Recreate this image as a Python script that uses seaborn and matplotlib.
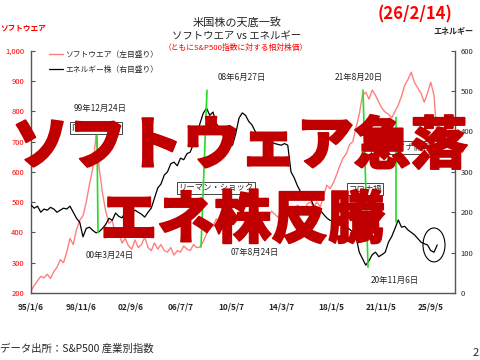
import numpy as np
import matplotlib
matplotlib.use("Agg")
import matplotlib.pyplot as plt
import matplotlib.patheffects as pe
import seaborn as sns
from matplotlib.patches import Ellipse, ConnectionPatch
from matplotlib.lines import Line2D

sns.set_style("white")
plt.rcParams['font.family'] = ['Noto Sans CJK JP', 'DejaVu Sans']

# ---------------- data (quarterly samples, 13-week steps from 1995/1/6) ----------------
step_weeks = 13
software = [207, 225, 240, 255, 250, 262, 248, 270, 285, 310,
            300, 335, 380, 360, 410, 440, 455, 500, 560, 610,
            720, 610, 530, 470, 430, 440, 390, 400, 365, 380,
            355, 345, 375, 350, 360, 385, 350, 340, 365, 345,
            360, 340, 335, 350, 325, 340, 335, 355, 345, 340,
            360, 350, 352, 370, 395, 430, 420, 445, 430, 455,
            440, 425, 445, 460, 440, 450, 430, 445, 455, 440,
            450, 465, 445, 455, 470, 460, 450, 465, 480, 470,
            460, 475, 490, 480, 470, 495, 500, 485, 500, 484,
            520, 556, 545, 563, 590, 620, 645, 660, 690, 700,
            745, 790, 853, 863, 840, 870, 853, 830, 810, 797,
            790, 778, 800, 820, 850, 886, 905, 929, 895, 877,
            860, 830, 860, 896, 853, 700]
energy = [218, 210, 215, 200, 208, 205, 212, 208, 200, 205,
          210, 208, 215, 200, 185, 175, 139, 160, 163, 155,
          149, 152, 160, 170, 185, 180, 198, 190, 186, 200,
          210, 200, 205, 200, 195, 188, 200, 210, 235, 260,
          270, 292, 300, 320, 324, 315, 334, 330, 345, 349,
          370, 391, 420, 445, 458, 440, 448, 420, 408, 390,
          380, 370, 366, 395, 433, 446, 440, 425, 416, 400,
          384, 390, 384, 375, 374, 370, 368, 366, 370, 366,
          300, 285, 265, 250, 245, 238, 235, 215, 200, 205,
          195, 186, 180, 178, 172, 168, 165, 163, 158, 151,
          140, 101, 85, 69, 80, 95, 101, 90, 95, 101,
          126, 140, 160, 181, 163, 165, 156, 150, 144, 135,
          126, 122, 119, 105, 101, 119]
weeks = np.arange(len(software)) * step_weeks

tick_weeks = [0, 200, 400, 600, 800, 1000, 1200, 1400, 1600]
tick_labels = ["95/1/6", "98/11/6", "02/9/6", "06/7/7", "10/5/7",
               "14/3/7", "18/1/5", "21/11/5", "25/9/5"]
left_ticks = [200, 300, 400, 500, 600, 700, 800, 900, 1000]
left_labels = ["200", "300", "400", "500", "600", "700", "800", "900", "1,000"]
right_ticks = [0, 100, 200, 300, 400, 500, 600]

# green "top/bottom" links: (week_a, value_a, axis_a, week_b, value_b, axis_b)
links = [(264, 721, "sw", 268, 149, "en"),
         (704, 502, "en", 680, 352, "sw"),
         (1328, 870, "sw", 1348, 64, "en"),
         (1460, 780, "sw", 1460, 176, "en")]

date_notes = [("99年12月24日", 276, 810), ("00年3月24日", 316, 325),
              ("08年6月27日", 844, 913), ("07年8月24日", 896, 335),
              ("21年8月20日", 1312, 910), ("20年11月6日", 1456, 240)]
box_notes = [("ITバブル崩壊", 260, 745), ("リーマン・ショック", 740, 547),
             ("コロナ禍", 1336, 543), ("ウクライナ開戦", 1484, 680)]

# ---------------- figure ----------------
fig = plt.figure(figsize=(4.8, 3.6), dpi=100)
ax = fig.add_axes([31/480, 1-293/360, 424/480, 242.3/360])
ax2 = ax.twinx()

sw_color = "#FF7F7F"
sns.lineplot(x=weeks, y=software, ax=ax, color=sw_color, linewidth=1.0)
sns.lineplot(x=weeks, y=energy, ax=ax2, color="black", linewidth=0.9)

ax.set_xlim(0, 1696)
ax.set_ylim(200, 1000)
ax2.set_ylim(0, 600)
ax.set_xlabel(""); ax.set_ylabel(""); ax2.set_ylabel("")

ax.set_xticks(tick_weeks)
ax.set_xticklabels(tick_labels, fontweight="bold", fontsize=6)
ax.set_yticks(left_ticks)
ax.set_yticklabels(left_labels, fontsize=5.5, color="#FF0000")
ax2.set_yticks(right_ticks)
ax2.set_yticklabels([str(v) for v in right_ticks], fontsize=5.5)

ax.tick_params(axis="x", direction="in", length=3, pad=7, color="#555555")
ax.tick_params(axis="y", direction="in", length=3, pad=5, color="#555555")
ax2.tick_params(axis="y", direction="in", length=3, pad=4, color="#555555")

for s in ["top", "right"]:
    ax.spines[s].set_visible(False)
for s in ["top", "left", "bottom"]:
    ax2.spines[s].set_visible(False)
for sp in [ax.spines["left"], ax.spines["bottom"], ax2.spines["right"]]:
    sp.set_color("#555555"); sp.set_linewidth(1.0)

# green links
axes_map = {"sw": ax, "en": ax2}
for wa, va, aa, wb, vb, ab in links:
    cp = ConnectionPatch(xyA=(wa, va), coordsA=axes_map[aa].transData,
                         xyB=(wb, vb), coordsB=axes_map[ab].transData,
                         color="#22DD22", linewidth=1.2, zorder=5)
    ax2.add_artist(cp)

for txt, w, v in date_notes:
    ax.text(w, v, txt, fontsize=6, ha="center", va="center", zorder=6)
for txt, w, v in box_notes:
    ax.text(w, v, txt, fontsize=6, ha="center", va="center", zorder=7,
            bbox=dict(boxstyle="square,pad=0.2", fc="white", ec="#444444", lw=0.7))

ax2.add_patch(Ellipse((1612, 119), 88, 84, fill=False, ec="black", lw=0.8, zorder=6))

handles = [Line2D([], [], color=sw_color, lw=1.0), Line2D([], [], color="black", lw=0.9)]
ax2.legend(handles, ["ソフトウエア（左目盛り）", "エネルギー株（右目盛り）"],
           loc="upper left", bbox_to_anchor=(0.042, 1.0), frameon=False,
           fontsize=5.6, handlelength=1.8, handletextpad=0.3, labelspacing=0.9,
           borderpad=0, borderaxespad=0)

# titles and side labels
fig.text(0.494, 0.939, "米国株の天底一致", fontsize=8, ha="center", va="center")
fig.text(0.492, 0.900, "ソフトウエア vs エネルギー", fontsize=7.5, ha="center", va="center")
fig.text(0.492, 0.867, "（ともにS&P500指数に対する相対株価）", fontsize=5.6, ha="center",
         va="center", color="#FF0000")
fig.text(0.0, 0.922, "ソフトウエア", fontsize=5.5, fontweight="bold", color="#FF0000",
         ha="left", va="center")
fig.text(0.944, 0.914, "エネルギー", fontsize=5.8, fontweight="bold", ha="center", va="center")
fig.text(0.865, 0.961, "(26/2/14)", fontsize=12, fontweight="bold", color="#FF0000",
         ha="center", va="center")
fig.text(0.0, 0.033, "データ出所：S&P500 産業別指数", fontsize=7.5, ha="left", va="center")
fig.text(0.99, 0.019, "2", fontsize=8, ha="center", va="center")

# big overlay headline
thick = [pe.withStroke(linewidth=1.3, foreground="#C00000")]
fig.text(0.5, 0.591, "ソフトウェア急落", fontsize=41, fontweight="black",
         color="#C00000", ha="center", va="center", zorder=20, path_effects=thick)
fig.text(0.506, 0.385, "エネ株反騰", fontsize=41, fontweight="black",
         color="#C00000", ha="center", va="center", zorder=20, path_effects=thick)

fig.savefig("out.png", dpi=100)
